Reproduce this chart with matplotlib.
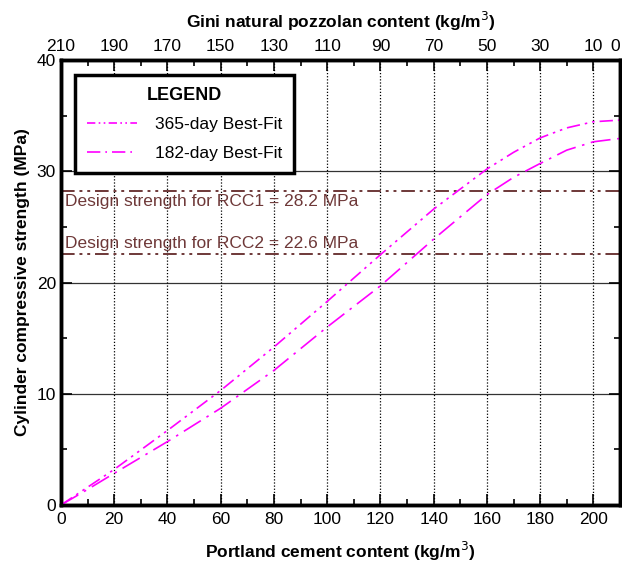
import matplotlib
matplotlib.use("Agg")
import matplotlib.pyplot as plt
from matplotlib.lines import Line2D
import numpy as np

plt.rcParams['font.family'] = ['Liberation Sans', 'DejaVu Sans']

cement = [0, 10, 20, 40, 60, 80, 100, 120, 140, 160, 170, 180, 190, 200, 210]
s365 = [0, 1.6, 3.2, 6.7, 10.3, 14.2, 18.3, 22.5, 26.6, 30.2, 31.7, 33.0, 33.9, 34.45, 34.6]
s182 = [0, 1.4, 2.85, 5.7, 8.7, 12.1, 16.0, 19.7, 23.9, 27.9, 29.45, 30.7, 31.9, 32.65, 32.95]
design = [28.2, 22.6]
design_labels = ["Design strength for RCC1 = 28.2 MPa", "Design strength for RCC2 = 22.6 MPa"]
top_ticks = [210, 190, 170, 150, 130, 110, 90, 70, 50, 30, 10, 0]

fig = plt.figure(figsize=(6.22, 5.62), dpi=100)
ax = fig.add_axes([0.098, 0.1014, 0.8988, 0.7918])
ax.set_xlim(0, 210)
ax.set_ylim(0, 40)

mag = '#ff00ff'
brown = '#6e3838'
fs = 12.5

for y in [10, 20, 30]:
    ax.axhline(y, color='#333333', lw=0.9, zorder=1)
for x in range(20, 201, 20):
    ax.axvline(x, color='black', lw=0.9, ls=(0, (1, 1.5)), zorder=1)

for d in design:
    ax.axhline(d, color=brown, lw=1.4, ls=(0, (7, 2.5, 1.5, 2.5, 1.5, 2.5)), zorder=2)
ax.text(1.5, design[0] - 0.25, design_labels[0], color=brown, fontsize=fs, va='top', ha='left')
ax.text(1.5, design[1] + 0.25, design_labels[1], color=brown, fontsize=fs, va='bottom', ha='left')

ax.plot(cement, s365, color=mag, lw=1.2, ls=(0, (8, 3, 1.5, 3, 1.5, 3)), zorder=3)
ax.plot(cement, s182, color=mag, lw=1.2, ls=(0, (12, 4, 1.5, 4)), zorder=3)

ax.set_xticks(range(0, 201, 20))
ax.set_xticks(range(10, 211, 20), minor=True)
ax.set_yticks([0, 10, 20, 30, 40])
ax.set_yticks([5, 15, 25, 35], minor=True)
ax.tick_params(which='major', direction='in', length=8, width=1.2, labelsize=fs, right=True)
ax.tick_params(axis='x', which='major', pad=5)
ax.tick_params(which='minor', direction='in', length=4, width=1.2, right=True)
for s in ax.spines.values():
    s.set_linewidth(2.5)

ax.set_xlabel("Portland cement content (kg/m$^3$)", fontsize=fs, fontweight='bold', labelpad=9)
ax.set_ylabel("Cylinder compressive strength (MPa)", fontsize=fs, fontweight='bold', labelpad=5)

ax2 = ax.twiny()
ax2.set_xlim(210, 0)
ax2.set_xticks(top_ticks)
ax2.set_xticklabels([str(t) for t in top_ticks])
ax2.set_xticks(range(200, -1, -20), minor=True)
ax2.tick_params(which='major', direction='in', length=8, width=1.2, labelsize=fs, pad=4)
ax2.tick_params(which='minor', direction='in', length=4, width=1.2)
for s in ax2.spines.values():
    s.set_linewidth(2.5)
ax2.set_xlabel("Gini natural pozzolan content (kg/m$^3$)", fontsize=fs, fontweight='bold', labelpad=8)
lbls = ax2.get_xticklabels()
lbls[-1].set_horizontalalignment('right')

handles = [Line2D([], [], color=mag, lw=1.2, ls=(0, (5, 2, 1, 2, 1, 2))),
           Line2D([], [], color=mag, lw=1.2, ls=(0, (8, 3, 1, 3)))]
leg = ax.legend(handles, ["365-day Best-Fit", "182-day Best-Fit"], loc='upper left',
                bbox_to_anchor=(0.025, 0.966), fontsize=fs, title="LEGEND",
                title_fontproperties={'weight': 'bold', 'size': 13},
                frameon=True, fancybox=False, handlelength=2.9, borderpad=0.7,
                labelspacing=0.75, handletextpad=1.0, borderaxespad=0)
leg.get_frame().set_edgecolor('black')
leg.get_frame().set_linewidth(2.5)
leg.get_frame().set_alpha(1)

fig.savefig("out.png", dpi=100)
